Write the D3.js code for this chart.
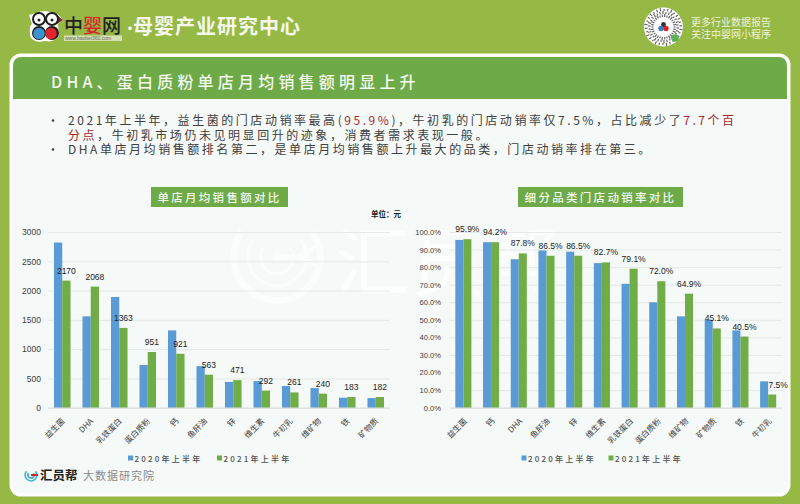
<!DOCTYPE html>
<html>
<head>
<meta charset="utf-8">
<script src="https://cdn.jsdelivr.net/npm/d3@7"></script>
<style>
	html, body { margin: 0; padding: 0; background: #96b845; }
	svg { display: block; }
	text { font-family: "Noto Sans CJK SC", "Noto Sans", sans-serif; }
	.num { font-family: "Liberation Sans", sans-serif; }
	.tickText text { font-family: "Liberation Sans", "Noto Sans CJK SC", sans-serif; }
</style>
</head>
<body>
<div id="chart"></div>
<script>
var seriesNames = ['2020年上半年', '2021年上半年'];

var salesCategories = ['益生菌', 'DHA', '乳铁蛋白', '蛋白质粉', '钙', '鱼肝油', '锌', '维生素', '牛初乳', '维矿物', '铁', '矿物质'];
var sales2020 = [2820, 1560, 1890, 730, 1320, 710, 440, 455, 370, 335, 170, 165];
var sales2021 = [2170, 2068, 1363, 951, 921, 563, 471, 292, 261, 240, 183, 182];
var salesTicks = [0, 500, 1000, 1500, 2000, 2500, 3000];

var rateCategories = ['益生菌', '钙', 'DHA', '鱼肝油', '锌', '维生素', '乳铁蛋白', '蛋白质粉', '维矿物', '矿物质', '铁', '牛初乳'];
var rate2020 = [95.5, 94.2, 84.5, 89.5, 88.8, 82.3, 70.5, 60.0, 52.0, 50.0, 44.0, 15.0];
var rate2021 = [95.9, 94.2, 87.8, 86.5, 86.5, 82.7, 79.1, 72.0, 64.9, 45.1, 40.5, 7.5];
var rateTicks = [0, 10, 20, 30, 40, 50, 60, 70, 80, 90, 100];

var BLUE = '#5b9bd5';
var GREEN = '#70ad47';
var RED = '#a5282c';
var TEXT = '#404040';

var svg = d3.select('#chart').append('svg')
	.attr('width', 800)
	.attr('height', 504);

svg.append('rect').attr('width', 800).attr('height', 504).attr('fill', '#96b845');

/* panel and title band */
svg.append('rect')
	.attr('x', 11).attr('y', 55).attr('width', 778).attr('height', 440)
	.attr('rx', 10)
	.attr('fill', '#f5f9f7')
	.attr('stroke', '#fff')
	.attr('stroke-width', 3);
svg.append('path')
	.attr('d', 'M13,99 V66 Q13,57 22,57 H778 Q787,57 787,66 V99 Z')
	.attr('fill', '#6eaa47');
svg.append('text')
	.attr('x', 51).attr('y', 88)
	.attr('fill', '#f4f8ee')
	.attr('font-size', 16)
	.attr('font-weight', 500)
	.attr('letter-spacing', 4.2)
	.text('DHA、蛋白质粉单店月均销售额明显上升');

drawHeader();
drawWatermark();
drawBullets();

drawTitleBox(151, 187, 137, 20, '单店月均销售额对比');
drawTitleBox(518, 187, 165, 20, '细分品类门店动销率对比');

svg.append('text')
	.attr('x', 371).attr('y', 217)
	.attr('font-size', 7.5)
	.attr('font-weight', 700)
	.attr('fill', '#222')
	.text('单位：元');

drawBars({
	left: 48, right: 390, top: 232, bottom: 407.7,
	categories: salesCategories,
	a: sales2020, b: sales2021,
	max: 3000, ticks: salesTicks,
	tickFormat: function (d) { return d; },
	labelFormat: function (d) { return d; },
	lastLabelShift: 0,
	tickX: 41,
	tickSize: 8.5,
	catShift: 3
});
drawBars({
	left: 449.5, right: 782, top: 232, bottom: 407.7,
	categories: rateCategories,
	a: rate2020, b: rate2021,
	max: 100, ticks: rateTicks,
	tickFormat: function (d) { return d.toFixed(1) + '%'; },
	labelFormat: function (d) { return d.toFixed(1) + '%'; },
	lastLabelShift: 6,
	tickX: 441,
	tickSize: 7.6,
	catShift: 4
});

drawLegend(128, 458, 89);
drawLegend(521.5, 458, 87);
drawFooter();

function drawTitleBox(x, y, w, h, label) {
	svg.append('rect')
		.attr('x', x).attr('y', y).attr('width', w).attr('height', h)
		.attr('fill', '#6eaa47');
	svg.append('text')
		.attr('x', x + w / 2).attr('y', y + h / 2 + 4.5)
		.attr('text-anchor', 'middle')
		.attr('fill', '#f4f8ee')
		.attr('font-size', 11.5)
		.attr('font-weight', 500)
		.attr('letter-spacing', 2.3)
		.text(label);
}

function drawBars(o) {
	var x = d3.scaleBand().domain(o.categories).range([o.left, o.right]);
	var y = d3.scaleLinear().domain([0, o.max]).range([o.bottom, o.top]);
	var barW = x.bandwidth() * 0.29;
	var g = svg.append('g');

	var yAxis = d3.axisLeft(y)
		.tickValues(o.ticks)
		.tickFormat(o.tickFormat);
	var yG = g.append('g')
		.attr('class', 'tickText')
		.attr('transform', 'translate(' + o.left + ',0)')
		.call(yAxis);
	yG.select('.domain').remove();
	yG.selectAll('line')
		.attr('x2', o.right - o.left)
		.attr('stroke', '#dfe4e1')
		.attr('stroke-width', 0.8);
	yG.selectAll('text')
		.attr('x', o.tickX - o.left)
		.attr('fill', TEXT)
		.attr('font-size', o.tickSize);

	var groups = g.selectAll('.cat')
		.data(o.categories)
		.enter().append('g');
	groups.append('rect')
		.attr('x', function (d) { return x(d) + x.bandwidth() / 2 - barW; })
		.attr('y', function (d, i) { return y(o.a[i]); })
		.attr('width', barW)
		.attr('height', function (d, i) { return o.bottom - y(o.a[i]); })
		.attr('fill', BLUE);
	groups.append('rect')
		.attr('x', function (d) { return x(d) + x.bandwidth() / 2; })
		.attr('y', function (d, i) { return y(o.b[i]); })
		.attr('width', barW)
		.attr('height', function (d, i) { return o.bottom - y(o.b[i]); })
		.attr('fill', GREEN);
	groups.append('text')
		.attr('class', 'num')
		.attr('x', function (d, i) {
			var shift = i == o.categories.length - 1 ? o.lastLabelShift : 0;
			return x(d) + x.bandwidth() / 2 + barW / 2 + shift;
		})
		.attr('y', function (d, i) { return y(o.b[i]) - 7; })
		.attr('text-anchor', 'middle')
		.attr('font-size', 8.5)
		.attr('fill', '#222')
		.text(function (d, i) { return o.labelFormat(o.b[i]); });

	var xAxis = d3.axisBottom(x).tickSize(0).tickPadding(0);
	var xG = g.append('g')
		.attr('transform', 'translate(0,' + o.bottom + ')')
		.call(xAxis);
	xG.select('.domain').attr('stroke', '#d5dbd7').attr('stroke-width', 0.8);
	xG.selectAll('text')
		.attr('text-anchor', 'end')
		.attr('font-size', 8)
		.attr('fill', TEXT)
		.attr('transform', 'translate(' + o.catShift + ',14) rotate(-45)')
		.attr('dy', 0)
		.attr('y', 0);
}

function drawLegend(x0, y0, step) {
	seriesNames.forEach(function (name, i) {
		var lx = x0 + i * step;
		svg.append('rect')
			.attr('x', lx).attr('y', y0 - 2.5)
			.attr('width', 5).attr('height', 5)
			.attr('fill', i === 0 ? BLUE : GREEN);
		svg.append('text')
			.attr('x', lx + 6.5).attr('y', y0 + 3.5)
			.attr('font-size', 8)
			.attr('font-weight', 500)
			.attr('letter-spacing', 2.2)
			.attr('fill', '#505050')
			.text(name);
	});
}

function drawBullets() {
	var lines = [
		{ y: 125, bullet: true, parts: [['2021年上半年，益生菌的门店动销率最高(', TEXT], ['95.9%', RED], [')，牛初乳的门店动销率仅7.5%，占比减少了', TEXT], ['7.7个百', RED]] },
		{ y: 139.5, bullet: false, parts: [['分点', RED], ['，牛初乳市场仍未见明显回升的迹象，消费者需求表现一般。', TEXT]] },
		{ y: 154, bullet: true, parts: [['DHA单店月均销售额排名第二，是单店月均销售额上升最大的品类，门店动销率排在第三。', TEXT]] }
	];
	lines.forEach(function (line) {
		if (line.bullet) {
			svg.append('circle').attr('cx', 53).attr('cy', line.y - 4.5).attr('r', 1.3).attr('fill', TEXT);
		}
		var t = svg.append('text')
			.attr('x', 68).attr('y', line.y)
			.attr('font-size', 12)
			.attr('letter-spacing', 2.55);
		line.parts.forEach(function (p) {
			t.append('tspan').attr('fill', p[1]).text(p[0]);
		});
	});
}

function drawHeader() {
	/* logo birds */
	var logo = svg.append('g');
	logo.append('path')
		.attr('d', 'M29,15 L36,13 Q45,9 52,13 Q58,12 63,20 L58,24 L59,36 Q54,43 45,41 Q34,44 30,36 Q29,25 32,24 Z')
		.attr('fill', '#fff');
	logo.append('path').attr('d', 'M57,15 L63,20 L57,24 Z').attr('fill', '#7c2a2a');
	[39, 52].forEach(function (cx) {
		logo.append('circle').attr('cx', cx).attr('cy', 19).attr('r', 7).attr('fill', '#1c1c1c');
		logo.append('circle').attr('cx', cx).attr('cy', 19).attr('r', 5).attr('fill', '#fff');
		logo.append('circle').attr('cx', cx).attr('cy', 20).attr('r', 1.5).attr('fill', '#222');
	});
	logo.append('circle').attr('cx', 39).attr('cy', 33).attr('r', 7).attr('fill', '#1c1c1c');
	logo.append('circle').attr('cx', 52).attr('cy', 33).attr('r', 7).attr('fill', '#1c1c1c');
	logo.append('circle').attr('cx', 39).attr('cy', 33.5).attr('r', 5.8).attr('fill', '#3a93cf');
	logo.append('circle').attr('cx', 51).attr('cy', 33.5).attr('r', 5.8).attr('fill', '#e0262c');

	var brand = svg.append('text').attr('x', 64).attr('y', 33).attr('font-size', 19).attr('font-weight', 500);
	brand.append('tspan').attr('fill', '#222').text('中');
	brand.append('tspan').attr('fill', '#d8242a').text('婴');
	brand.append('tspan').attr('fill', '#222').text('网');
	svg.append('rect').attr('x', 64).attr('y', 35.5).attr('width', 58).attr('height', 5.5).attr('fill', '#e8efd8').attr('opacity', 0.75);
	svg.append('text').attr('class', 'num').attr('x', 65).attr('y', 40).attr('font-size', 5).attr('fill', '#666').text('www.baobei360.com');

	svg.append('text')
		.attr('x', 123).attr('y', 33)
		.attr('font-size', 14)
		.attr('font-weight', 700)
		.attr('fill', '#f6f8ee')
		.text('·');
	svg.append('text')
		.attr('x', 133).attr('y', 33.5)
		.attr('font-size', 20)
		.attr('font-weight', 700)
		.attr('letter-spacing', 1)
		.attr('fill', '#f6f8ee')
		.text('母婴产业研究中心');

	/* mini program code */
	var qr = svg.append('g').attr('transform', 'translate(663.5,27)');
	qr.append('circle').attr('r', 19.5).attr('fill', '#fff');
	d3.range(0, 360, 12).forEach(function (a) {
		[10, 13, 16].forEach(function (r, k) {
			qr.append('rect')
				.attr('x', r).attr('y', -0.6)
				.attr('width', 2 + (a / 12 + k) % 3 * 0.6).attr('height', 1.2)
				.attr('fill', '#666')
				.attr('transform', 'rotate(' + (a + k * 4) + ')');
		});
	});
	qr.append('circle').attr('r', 8).attr('fill', '#fff');
	qr.append('circle').attr('cx', -2.5).attr('cy', 1.5).attr('r', 2.7).attr('fill', '#3a7fc0');
	qr.append('circle').attr('cx', 2.5).attr('cy', 1.5).attr('r', 2.7).attr('fill', '#d8242a');
	qr.append('circle').attr('cx', 0).attr('cy', -2.5).attr('r', 2.4).attr('fill', '#333');
	qr.append('circle').attr('cx', 11.5).attr('cy', 11).attr('r', 3.8).attr('fill', '#5bb058');

	svg.append('text').attr('x', 691).attr('y', 26).attr('font-size', 10).attr('fill', '#eef3dc').text('更多行业数据报告');
	svg.append('text').attr('x', 691).attr('y', 38).attr('font-size', 10).attr('fill', '#eef3dc').text('关注中婴网小程序');
}

function drawWatermark() {
	var wm = svg.append('g').attr('fill', '#fff').attr('opacity', 0.65);
	[[15, 3], [27, 4], [40, 7]].forEach(function (c) {
		wm.append('path')
			.attr('d', d3.arc()({ innerRadius: c[0], outerRadius: c[0] + c[1], startAngle: 0.95, endAngle: 5.35 }))
			.attr('transform', 'translate(277,257)');
	});
	wm.append('circle').attr('cx', 277).attr('cy', 257).attr('r', 5);
	wm.append('path').attr('d', 'M277,255 H295 L319,243 L309,256 L319,268 L295,259 H277 Z');
	svg.append('text')
		.attr('x', 335).attr('y', 290)
		.attr('font-size', 75)
		.attr('fill', '#ffffff')
		.attr('opacity', 0.75)
		.text('汇员帮');
}

function drawFooter() {
	var c = svg.append('g').attr('transform', 'translate(31,475)');
	[[5, 7.5], [2.2, 4]].forEach(function (r) {
		c.append('path')
			.attr('d', d3.arc()({ innerRadius: r[0], outerRadius: r[0] + 1.7, startAngle: 0.9, endAngle: 5.4 }))
			.attr('fill', '#3fb5c9');
	});
	c.append('rect').attr('x', 0).attr('y', -1).attr('width', 7).attr('height', 2).attr('fill', '#d8242a');
	svg.append('text')
		.attr('x', 40).attr('y', 480)
		.attr('font-size', 12.5).attr('font-weight', 700).attr('fill', '#222')
		.text('汇员帮');
	svg.append('text')
		.attr('x', 83).attr('y', 480)
		.attr('font-size', 11).attr('fill', '#8a8a8a').attr('letter-spacing', 1)
		.text('大数据研究院');
}
</script>
</body>
</html>
